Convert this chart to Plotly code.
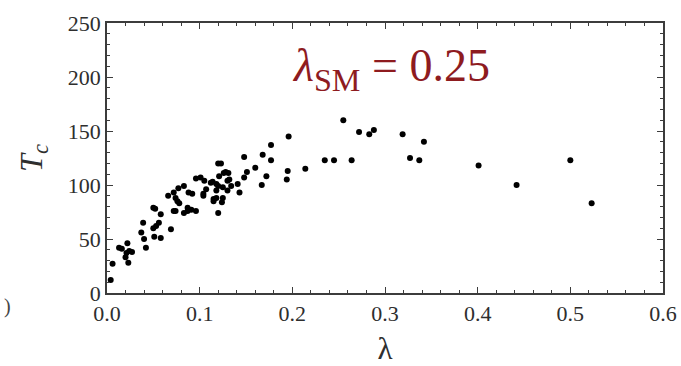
import plotly.graph_objects as go

# data
lam = [0.004, 0.006, 0.013, 0.016, 0.021, 0.022, 0.024, 0.023, 0.027, 0.020,
       0.039, 0.037, 0.040, 0.042, 0.050, 0.052, 0.058, 0.050, 0.053, 0.056,
       0.051, 0.058, 0.069, 0.066, 0.072, 0.077, 0.076, 0.078, 0.074, 0.074,
       0.072, 0.083, 0.088, 0.092, 0.083, 0.087, 0.087, 0.091, 0.096, 0.096,
       0.101, 0.105, 0.104, 0.107, 0.104, 0.112, 0.114, 0.118, 0.121, 0.120,
       0.123, 0.126, 0.131, 0.128, 0.130, 0.132, 0.120, 0.125, 0.134, 0.141,
       0.130, 0.118, 0.118, 0.125, 0.115, 0.115, 0.124, 0.120, 0.143, 0.148,
       0.151, 0.148, 0.160, 0.172, 0.167, 0.168, 0.177, 0.177, 0.196, 0.195,
       0.194, 0.214, 0.235, 0.245, 0.255, 0.264, 0.272, 0.283, 0.288, 0.319,
       0.327, 0.337, 0.342, 0.401, 0.442, 0.500, 0.523]
tc = [12, 27, 42, 41, 37, 46, 39, 28, 38, 33,
      65, 56, 50, 42, 79, 78, 73, 60, 62, 65,
      52, 51, 59, 90, 93, 97, 85, 83, 88, 76,
      76, 99, 93, 92, 74, 76, 79, 77, 76, 106,
      107, 104, 92, 96, 90, 102, 103, 101, 108, 120,
      120, 111, 111, 112, 104, 105, 99, 98, 99, 101,
      95, 95, 88, 88, 87, 85, 84, 74, 93, 107,
      112, 126, 116, 108, 100, 128, 137, 123, 145, 113,
      105, 115, 123, 123, 160, 123, 149, 147, 151, 147,
      125, 123, 140, 118, 100, 123, 83]

x_ticks = [0.0, 0.1, 0.2, 0.3, 0.4, 0.5, 0.6]
x_ticklabels = ["0.0", "0.1", "0.2", "0.3", "0.4", "0.5", "0.6"]
y_ticks = [0, 50, 100, 150, 200, 250]

serif = "Liberation Serif, Times New Roman, Times, serif"
axis_col = "#3c3c3c"
text_col = "#2e2e2e"

fig = go.Figure()
fig.add_trace(go.Scatter(
    x=lam, y=tc, mode="markers",
    marker=dict(color="black", size=6, line=dict(width=0)),
    showlegend=False, hoverinfo="x+y"))

common = dict(
    showline=True, linecolor=axis_col, linewidth=1.5, mirror="ticks",
    ticks="inside", ticklen=6, tickwidth=1.3, tickcolor=axis_col,
    showgrid=False, zeroline=False, automargin=False,
    tickfont=dict(family=serif, size=22, color=text_col),
)

fig.update_xaxes(
    range=[0, 0.6], tickvals=x_ticks, ticktext=x_ticklabels,
    minor=dict(dtick=0.02, ticks="inside", ticklen=3, tickwidth=1, tickcolor=axis_col),
    title=dict(text="λ", font=dict(family=serif, size=31, color=text_col), standoff=15),
    **common)
fig.update_yaxes(
    range=[0, 250], tickvals=y_ticks,
    minor=dict(dtick=10, ticks="inside", ticklen=3, tickwidth=1, tickcolor=axis_col),
    title=dict(text="<i>T<sub>c</sub></i>", font=dict(family=serif, size=32, color=text_col), standoff=16),
    **common)

fig.add_annotation(
    x=0.306, y=207, xref="x", yref="y",
    text="<i>λ</i><sub>SM</sub> = 0.25", showarrow=False,
    font=dict(family=serif, size=46, color="#8e1b1f"))

fig.add_annotation(
    x=-105 / 556, y=(366 - 306 - 73) / (366 - 23 - 73), xref="paper", yref="paper",
    xanchor="left", yanchor="middle",
    text=")", showarrow=False,
    font=dict(family=serif, size=20, color="#444444"))

fig.update_layout(
    width=681, height=366,
    margin=dict(l=107, r=18, t=23, b=73),
    paper_bgcolor="white", plot_bgcolor="white",
)

fig.write_html("out.html")
